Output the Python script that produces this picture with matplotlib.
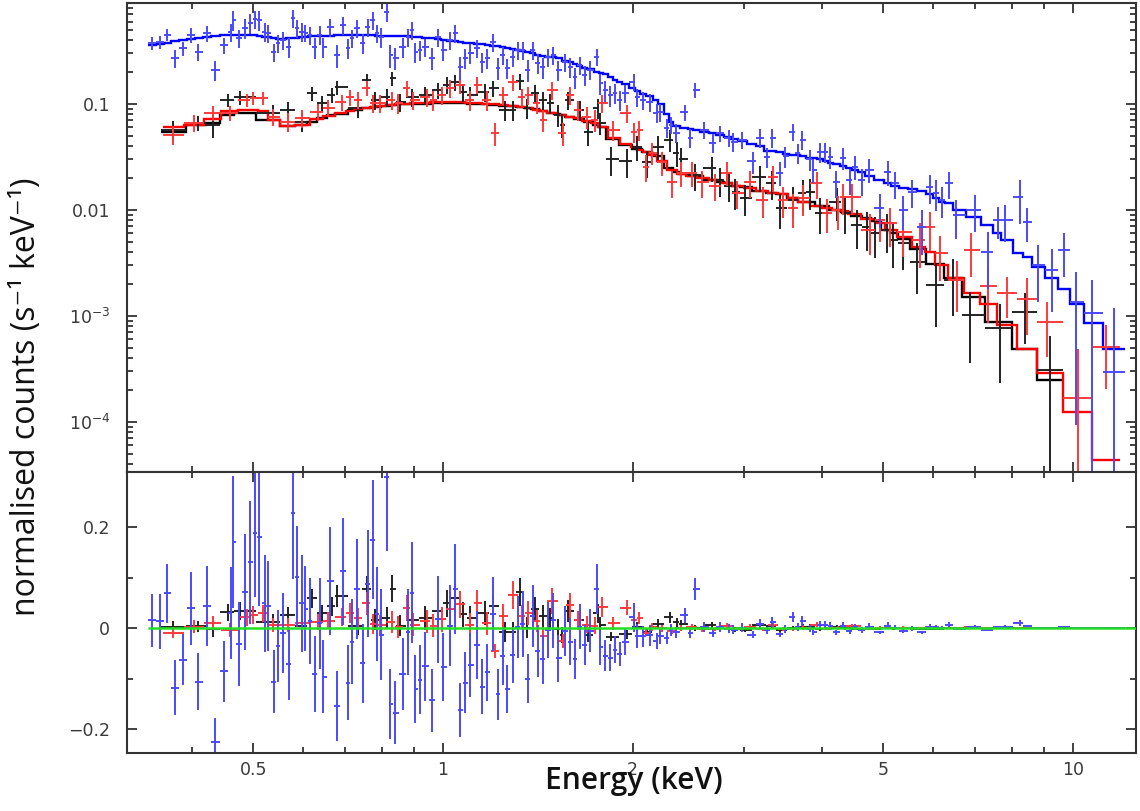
import numpy as np
import matplotlib
matplotlib.use("Agg")
import matplotlib.pyplot as plt
from matplotlib.ticker import FixedLocator, FixedFormatter, NullFormatter, LogLocator

# --- observation 3 (blue): energy (keV), normalised counts, model, fractional error
blue_e = [0.345, 0.356, 0.365, 0.376, 0.386, 0.398, 0.409, 0.422, 0.435, 0.449,
          0.461, 0.464, 0.474, 0.485, 0.494, 0.503, 0.511, 0.522, 0.527, 0.539,
          0.547, 0.557, 0.570, 0.578, 0.586, 0.597, 0.604, 0.615, 0.626, 0.638,
          0.645, 0.662, 0.679, 0.695, 0.707, 0.717, 0.730, 0.746, 0.760, 0.774,
          0.785, 0.797, 0.815, 0.824, 0.839, 0.864, 0.880, 0.894, 0.904, 0.919,
          0.936, 0.961, 0.982, 1.000, 1.026, 1.045, 1.064, 1.084, 1.104, 1.133,
          1.153, 1.175, 1.201, 1.223, 1.243, 1.263, 1.291, 1.315, 1.339, 1.364,
          1.389, 1.414, 1.440, 1.468, 1.495, 1.522, 1.562, 1.591, 1.620, 1.649,
          1.679, 1.711, 1.756, 1.775, 1.808, 1.841, 1.875, 1.909, 1.944, 2.010,
          2.030, 2.077, 2.130, 2.185, 2.210, 2.270, 2.300, 2.340, 2.420, 2.470,
          2.510, 2.600, 2.680, 2.750, 2.840, 2.890, 2.980, 3.100, 3.190, 3.270,
          3.330, 3.430, 3.490, 3.590, 3.660, 3.720, 3.830, 3.870, 3.970, 4.040,
          4.120, 4.210, 4.310, 4.420, 4.510, 4.620, 4.740, 4.940, 5.090, 5.210,
          5.380, 5.560, 5.760, 5.930, 6.070, 6.200, 6.350, 6.530, 6.980, 7.320,
          7.600, 7.800, 8.240, 8.450, 8.800, 9.270, 9.660, 10.10, 10.70, 11.60]
blue_val = [0.375, 0.383, 0.449, 0.272, 0.337, 0.449, 0.309, 0.468, 0.210, 0.359,
            0.479, 0.620, 0.418, 0.522, 0.580, 0.634, 0.620, 0.479, 0.468, 0.309,
            0.375, 0.400, 0.344, 0.647, 0.522, 0.479, 0.468, 0.449, 0.344, 0.449,
            0.344, 0.533, 0.290, 0.557, 0.337, 0.418, 0.522, 0.375, 0.533, 0.620,
            0.468, 0.427, 0.740, 0.290, 0.272, 0.344, 0.427, 0.500, 0.309, 0.323,
            0.344, 0.272, 0.427, 0.323, 0.400, 0.468, 0.223, 0.272, 0.302, 0.337,
            0.249, 0.272, 0.383, 0.219, 0.290, 0.219, 0.277, 0.323, 0.323, 0.210,
            0.323, 0.244, 0.223, 0.277, 0.290, 0.210, 0.249, 0.223, 0.179, 0.233,
            0.187, 0.210, 0.277, 0.157, 0.135, 0.121, 0.127, 0.109, 0.127, 0.161,
            0.116, 0.109, 0.104, 0.0825, 0.084, 0.0597, 0.0637, 0.0534, 0.084, 0.048,
            0.135, 0.057, 0.043, 0.053, 0.048, 0.044, 0.046, 0.0287, 0.048, 0.0318,
            0.048, 0.0225, 0.032, 0.0547, 0.0347, 0.046, 0.030, 0.024, 0.0354, 0.0354,
            0.0318, 0.0182, 0.031, 0.019, 0.0256, 0.019, 0.024, 0.0104, 0.023, 0.0178,
            0.010, 0.0148, 0.0069, 0.0163, 0.0145, 0.0124, 0.0178, 0.0089, 0.010, 0.0040,
            0.008, 0.008, 0.0133, 0.0077, 0.0030, 0.0027, 0.0042, 0.00135, 0.00107, 0.000296]
blue_mod = [0.36, 0.37, 0.38, 0.39, 0.40, 0.41, 0.415, 0.425, 0.435, 0.445,
            0.45, 0.45, 0.45, 0.45, 0.45, 0.445, 0.44, 0.43, 0.425, 0.415,
            0.41, 0.41, 0.415, 0.42, 0.42, 0.43, 0.43, 0.435, 0.435, 0.44,
            0.44, 0.44, 0.445, 0.445, 0.445, 0.445, 0.445, 0.445, 0.445, 0.445,
            0.44, 0.44, 0.44, 0.44, 0.44, 0.435, 0.435, 0.43, 0.43, 0.425,
            0.42, 0.415, 0.41, 0.40, 0.395, 0.39, 0.385, 0.38, 0.375, 0.37,
            0.365, 0.36, 0.355, 0.35, 0.345, 0.34, 0.33, 0.32, 0.315, 0.31,
            0.30, 0.29, 0.285, 0.28, 0.275, 0.27, 0.255, 0.25, 0.24, 0.23,
            0.22, 0.215, 0.20, 0.195, 0.19, 0.18, 0.17, 0.16, 0.155, 0.14,
            0.132, 0.125, 0.118, 0.108, 0.10, 0.08, 0.068, 0.062, 0.059, 0.058,
            0.057, 0.055, 0.053, 0.051, 0.049, 0.047, 0.045, 0.042, 0.040, 0.036,
            0.036, 0.035, 0.034, 0.033, 0.033, 0.032, 0.031, 0.031, 0.030, 0.029,
            0.028, 0.027, 0.026, 0.025, 0.024, 0.023, 0.021, 0.019, 0.018, 0.017,
            0.016, 0.0157, 0.015, 0.014, 0.013, 0.012, 0.0117, 0.010, 0.0085, 0.0072,
            0.0060, 0.0052, 0.0039, 0.0036, 0.0029, 0.0023, 0.0018, 0.0013, 0.00086, 0.00049]
blue_frac = [0.14, 0.14, 0.13, 0.20, 0.15, 0.16, 0.18, 0.17, 0.22, 0.17,
             0.19, 0.21, 0.20, 0.22, 0.21, 0.20, 0.22, 0.20, 0.19, 0.20,
             0.19, 0.20, 0.21, 0.20, 0.19, 0.20, 0.18, 0.19, 0.22, 0.20,
             0.21, 0.20, 0.24, 0.19, 0.22, 0.20, 0.19, 0.21, 0.20, 0.19,
             0.20, 0.21, 0.20, 0.24, 0.23, 0.21, 0.20, 0.20, 0.22, 0.21,
             0.20, 0.23, 0.20, 0.21, 0.20, 0.19, 0.24, 0.22, 0.21, 0.20,
             0.22, 0.21, 0.19, 0.23, 0.20, 0.22, 0.20, 0.19, 0.20, 0.23,
             0.19, 0.21, 0.22, 0.20, 0.19, 0.22, 0.20, 0.21, 0.22, 0.19,
             0.21, 0.20, 0.18, 0.22, 0.23, 0.22, 0.21, 0.22, 0.20, 0.18,
             0.20, 0.19, 0.20, 0.20, 0.19, 0.20, 0.19, 0.20, 0.17, 0.20,
             0.16, 0.18, 0.20, 0.18, 0.19, 0.20, 0.19, 0.24, 0.20, 0.22,
             0.20, 0.25, 0.22, 0.18, 0.22, 0.20, 0.23, 0.25, 0.22, 0.21,
             0.23, 0.28, 0.23, 0.27, 0.25, 0.28, 0.25, 0.35, 0.27, 0.28,
             0.35, 0.30, 0.45, 0.30, 0.32, 0.33, 0.28, 0.40, 0.38, 0.55,
             0.34, 0.38, 0.45, 0.35, 0.55, 0.60, 0.45, 0.93, 1.05, 3.0]

# --- observation 2 (red)
red_e = [0.373, 0.403, 0.431, 0.459, 0.488, 0.499, 0.517, 0.537, 0.567, 0.597,
         0.633, 0.657, 0.691, 0.712, 0.733, 0.757, 0.774, 0.794, 0.830, 0.849,
         0.877, 0.896, 0.943, 0.964, 0.996, 1.026, 1.064, 1.104, 1.133, 1.175,
         1.209, 1.245, 1.291, 1.335, 1.364, 1.410, 1.440, 1.490, 1.550, 1.590,
         1.640, 1.690, 1.740, 1.790, 1.860, 1.960, 2.010, 2.050, 2.100, 2.150,
         2.230, 2.310, 2.390, 2.480, 2.580, 2.700, 2.820, 2.930, 3.070, 3.220,
         3.340, 3.460, 3.590, 3.730, 3.930, 4.070, 4.230, 4.320, 4.460, 4.760,
         4.940, 5.120, 5.380, 5.720, 5.930, 6.150, 6.540, 6.900, 7.320, 7.850,
         8.450, 9.100, 10.20, 11.30]
red_val = [0.0511, 0.0665, 0.0824, 0.0824, 0.109, 0.114, 0.114, 0.0757, 0.068, 0.0735,
           0.0842, 0.0919, 0.104, 0.116, 0.109, 0.141, 0.102, 0.102, 0.109, 0.102,
           0.141, 0.109, 0.116, 0.109, 0.121, 0.141, 0.151, 0.109, 0.151, 0.109,
           0.0534, 0.121, 0.161, 0.116, 0.121, 0.102, 0.071, 0.135, 0.0534, 0.121,
           0.088, 0.0757, 0.071, 0.102, 0.057, 0.0825, 0.0546, 0.057, 0.0256, 0.0347,
           0.0281, 0.0182, 0.0225, 0.0225, 0.0182, 0.0170, 0.0225, 0.0145, 0.0182, 0.0124,
           0.0203, 0.0124, 0.0104, 0.0130, 0.0178, 0.0094, 0.010, 0.0132, 0.0132, 0.0065,
           0.008, 0.0075, 0.0062, 0.0052, 0.0069, 0.0039, 0.0022, 0.0042, 0.0019, 0.00165,
           0.00146, 0.00088, 0.000168, 0.00051]
red_mod = [0.060, 0.064, 0.072, 0.086, 0.088, 0.088, 0.085, 0.070, 0.062, 0.064,
           0.072, 0.077, 0.082, 0.086, 0.089, 0.092, 0.094, 0.096, 0.098, 0.100,
           0.101, 0.102, 0.103, 0.104, 0.104, 0.104, 0.104, 0.103, 0.102, 0.100,
           0.099, 0.098, 0.096, 0.093, 0.091, 0.088, 0.086, 0.082, 0.079, 0.076,
           0.073, 0.069, 0.066, 0.060, 0.048, 0.042, 0.039, 0.037, 0.035, 0.033,
           0.029, 0.024, 0.022, 0.021, 0.020, 0.019, 0.018, 0.017, 0.016, 0.015,
           0.0145, 0.014, 0.013, 0.012, 0.011, 0.0105, 0.010, 0.0098, 0.0092, 0.0082,
           0.0075, 0.0065, 0.0055, 0.0045, 0.0040, 0.0030, 0.0023, 0.00165, 0.0013, 0.00083,
           0.00049, 0.00029, 0.000124, 0.000044]
red_frac = [0.20, 0.19, 0.17, 0.17, 0.15, 0.15, 0.15, 0.18, 0.20, 0.19,
            0.18, 0.18, 0.17, 0.17, 0.18, 0.16, 0.20, 0.20, 0.20, 0.21,
            0.18, 0.20, 0.20, 0.21, 0.20, 0.19, 0.18, 0.21, 0.18, 0.21,
            0.25, 0.20, 0.17, 0.20, 0.20, 0.21, 0.24, 0.19, 0.25, 0.20,
            0.22, 0.23, 0.23, 0.20, 0.22, 0.19, 0.21, 0.21, 0.28, 0.24,
            0.25, 0.28, 0.26, 0.26, 0.28, 0.28, 0.25, 0.30, 0.28, 0.32,
            0.27, 0.32, 0.35, 0.32, 0.28, 0.36, 0.35, 0.32, 0.32, 0.42,
            0.38, 0.40, 0.42, 0.45, 0.40, 0.45, 0.50, 0.45, 0.55, 0.42,
            0.55, 0.53, 1.90, 0.60]

# --- observation 1 (black)
black_e = [0.373, 0.409, 0.431, 0.456, 0.476, 0.537, 0.567, 0.597, 0.620, 0.643,
           0.667, 0.679, 0.733, 0.757, 0.780, 0.815, 0.830, 0.855, 0.893, 0.936,
           0.982, 1.015, 1.045, 1.076, 1.104, 1.166, 1.200, 1.254, 1.290, 1.325,
           1.360, 1.400, 1.440, 1.480, 1.520, 1.545, 1.580, 1.650, 1.700, 1.760,
           1.775, 1.850, 1.960, 2.030, 2.110, 2.190, 2.290, 2.350, 2.390, 2.510,
           2.670, 2.750, 2.840, 2.910, 3.010, 3.190, 3.330, 3.430, 3.600, 3.730,
           3.820, 3.970, 4.220, 4.350, 4.540, 4.710, 4.850, 5.070, 5.180, 5.380,
           5.660, 6.050, 6.450, 6.870, 7.660, 8.380, 9.200]
black_val = [0.057, 0.0665, 0.0637, 0.109, 0.116, 0.0825, 0.088, 0.068, 0.1265, 0.102,
             0.121, 0.144, 0.0919, 0.168, 0.109, 0.116, 0.175, 0.104, 0.116, 0.121,
             0.135, 0.151, 0.161, 0.129, 0.121, 0.129, 0.141, 0.088, 0.088, 0.164,
             0.092, 0.126, 0.109, 0.102, 0.079, 0.0637, 0.109, 0.088, 0.0546, 0.0919,
             0.0665, 0.030, 0.0287, 0.0395, 0.0281, 0.0395, 0.046, 0.0347, 0.030, 0.0212,
             0.025, 0.019, 0.017, 0.0148, 0.013, 0.0203, 0.0178, 0.0104, 0.0124, 0.0145,
             0.0148, 0.0094, 0.0119, 0.0094, 0.0072, 0.0069, 0.0061, 0.0065, 0.0052, 0.0049,
             0.00325, 0.00197, 0.0022, 0.00102, 0.00077, 0.00109, 0.00031]
black_mod = [0.054, 0.063, 0.066, 0.078, 0.082, 0.070, 0.062, 0.063, 0.068, 0.073,
             0.078, 0.080, 0.088, 0.091, 0.093, 0.096, 0.097, 0.099, 0.100, 0.101,
             0.102, 0.102, 0.102, 0.102, 0.101, 0.099, 0.098, 0.096, 0.095, 0.093,
             0.091, 0.089, 0.086, 0.083, 0.080, 0.078, 0.076, 0.072, 0.068, 0.063,
             0.060, 0.047, 0.041, 0.038, 0.035, 0.032, 0.025, 0.023, 0.022, 0.021,
             0.019, 0.0185, 0.018, 0.017, 0.0165, 0.015, 0.0145, 0.014, 0.013, 0.012,
             0.0118, 0.011, 0.010, 0.0096, 0.0088, 0.0084, 0.0078, 0.0065, 0.006, 0.0053,
             0.0043, 0.0031, 0.0023, 0.0015, 0.00088, 0.00049, 0.00025]
black_frac = [0.20, 0.16, 0.25, 0.15, 0.15, 0.18, 0.18, 0.20, 0.15, 0.17,
              0.16, 0.15, 0.20, 0.15, 0.19, 0.19, 0.15, 0.20, 0.20, 0.19,
              0.18, 0.18, 0.17, 0.19, 0.20, 0.19, 0.18, 0.22, 0.22, 0.17,
              0.22, 0.19, 0.20, 0.21, 0.23, 0.25, 0.20, 0.22, 0.26, 0.21,
              0.24, 0.30, 0.30, 0.26, 0.28, 0.25, 0.23, 0.26, 0.27, 0.28,
              0.27, 0.30, 0.30, 0.32, 0.33, 0.28, 0.30, 0.36, 0.33, 0.32,
              0.32, 0.37, 0.34, 0.37, 0.40, 0.40, 0.42, 0.40, 0.45, 0.45,
              0.50, 0.60, 0.55, 0.65, 0.70, 0.50, 1.10]

x_major = [0.5, 1, 2, 5, 10]
x_major_labels = ["0.5", "1", "2", "5", "10"]
x_minor = [0.4, 0.6, 0.7, 0.8, 0.9, 3, 4, 6, 7, 8, 9]
y_major = [1e-4, 1e-3, 1e-2, 1e-1]
y_major_labels = ["$10^{-4}$", "$10^{-3}$", "0.01", "0.1"]
res_major = [-0.2, 0, 0.2]
res_major_labels = ["\u22120.2", "0", "0.2"]
res_minor = [-0.1, 0.1]

AXC = "#333333"
plt.rcParams["font.family"] = ["DejaVu Sans"]


def bin_edges(centres):
    """contiguous bin edges halfway (in log) between channel centres"""
    c = np.log10(centres)
    mid = (c[1:] + c[:-1]) / 2
    return 10 ** np.concatenate([[2 * c[0] - mid[0]], mid, [2 * c[-1] - mid[-1]]])


def plot_group(ax_top, ax_res, e, val, mod, frac, color, ecolor):
    e, val, mod, frac = map(np.asarray, (e, val, mod, frac))
    edges = bin_edges(e)
    xerr = [e - edges[:-1], edges[1:] - e]
    err = frac * val
    ax_top.errorbar(e, val, xerr=xerr, yerr=err, fmt="none", ecolor=ecolor,
                    elinewidth=1.4, capsize=0)
    ax_top.stairs(mod, edges, baseline=None, color=color, lw=1.7)
    ax_res.errorbar(e, val - mod, xerr=xerr, yerr=err, fmt="none", ecolor=ecolor,
                    elinewidth=1.4, capsize=0)
    return edges


fig = plt.figure(figsize=(11.4, 8.11), dpi=100)
ax1 = fig.add_axes([0.1114, 0.418, 0.8851, 0.5783])
ax2 = fig.add_axes([0.1114, 0.0715, 0.8851, 0.3465])

ax1.set_yscale("log", nonpositive="clip")
plot_group(ax1, ax2, black_e, black_val, black_mod, black_frac, "#000000", "#222222")
plot_group(ax1, ax2, red_e, red_val, red_mod, red_frac, "#ff0000", "#ff3a3a")
b_edges = plot_group(ax1, ax2, blue_e, blue_val, blue_mod, blue_frac, "#0000ff", "#4a4aff")

xmax = 12.59
ax2.hlines(0, b_edges[0], xmax, color="#22e022", lw=1.8, zorder=5)

for ax in (ax1, ax2):
    ax.set_xscale("log")
    ax.set_xlim(0.315, xmax)
    ax.xaxis.set_major_locator(FixedLocator(x_major))
    ax.xaxis.set_minor_locator(FixedLocator(x_minor))
    ax.xaxis.set_minor_formatter(NullFormatter())
    ax.tick_params(which="both", direction="in", top=True, right=True,
                   color=AXC, width=1.3, labelcolor="#3a3a3a", labelsize=12.5)
    ax.tick_params(which="major", length=7)
    ax.tick_params(which="minor", length=4)
    ax.tick_params(axis="y", pad=12)
    ax.tick_params(axis="x", pad=6)
    for sp in ax.spines.values():
        sp.set_color(AXC)
        sp.set_linewidth(1.5)

ax1.set_ylim(3.37e-5, 0.897)
ax1.yaxis.set_major_locator(FixedLocator(y_major))
ax1.yaxis.set_major_formatter(FixedFormatter(y_major_labels))
ax1.yaxis.set_minor_locator(LogLocator(base=10, subs=np.arange(2, 10), numticks=20))
ax1.yaxis.set_minor_formatter(NullFormatter())
ax1.tick_params(axis="x", labelbottom=False)

ax2.set_ylim(-0.2475, 0.309)
ax2.yaxis.set_major_locator(FixedLocator(res_major))
ax2.yaxis.set_major_formatter(FixedFormatter(res_major_labels))
ax2.yaxis.set_minor_locator(FixedLocator(res_minor))
ax2.xaxis.set_major_formatter(FixedFormatter(x_major_labels))

fig.text(0.0235, 0.5105, "normalised counts (s\u207b\u00b9 keV\u207b\u00b9)", rotation=90,
         ha="center", va="center", fontsize=23, family=["Open Sans", "DejaVu Sans"],
         color="#111111")
fig.text(0.556, 0.0271, "Energy (keV)", ha="center", va="baseline", fontsize=21.5,
         fontweight="semibold", family=["Open Sans", "DejaVu Sans"], color="#111111")

fig.savefig("out.png", dpi=100)
